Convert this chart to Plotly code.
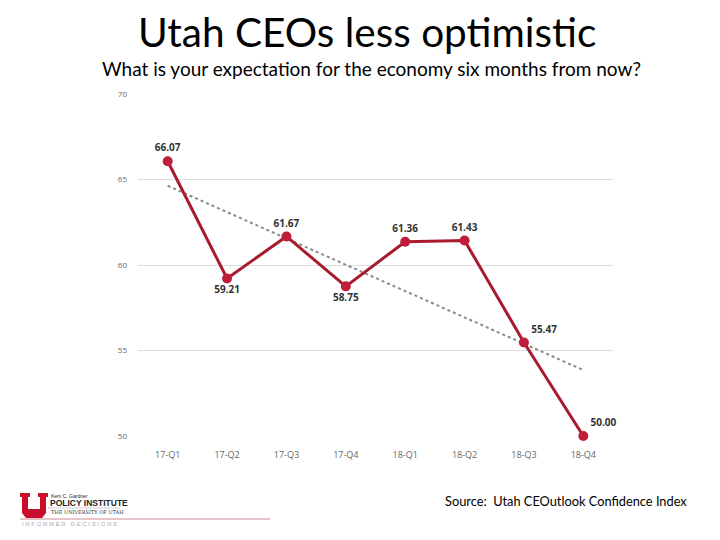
import numpy as np
import plotly.graph_objects as go

quarters = ["17-Q1", "17-Q2", "17-Q3", "17-Q4", "18-Q1", "18-Q2", "18-Q3", "18-Q4"]
values = [66.07, 59.21, 61.67, 58.75, 61.36, 61.43, 55.47, 50.00]
label_pos = ["top center", "bottom center", "top center", "bottom center",
             "top center", "top center", "top right", "top right"]
y_ticks = [50, 55, 60, 65, 70]

W, H = 720, 540
L, R, T, B = 138, 613, 94, 436


def px(x):
    return (x - L) / (R - L)


def py(y):
    return (B - y) / (B - T)


idx = np.arange(len(values))
slope, intercept = np.polyfit(idx, values, 1)
trend = slope * idx + intercept

fig = go.Figure()
fig.add_trace(go.Scatter(
    x=quarters, y=trend, mode="lines",
    line=dict(color="#8a8a8a", width=2, dash="dot"),
    hoverinfo="skip", showlegend=False))
fig.add_trace(go.Scatter(
    x=quarters, y=values, mode="lines+markers+text",
    line=dict(color="#A81B2E", width=3),
    marker=dict(color="#BE1E3A", size=10),
    text=[f"{v:.2f}" for v in values], textposition=label_pos,
    textfont=dict(family="Open Sans", size=10, color="#333333"),
    texttemplate="<b>%{text}</b>", cliponaxis=False,
    showlegend=False))

fig.update_xaxes(range=[-0.5, 7.5], showgrid=False, showline=False, zeroline=False,
                 tickfont=dict(family="Open Sans", size=9, color="#666666"), ticks="",
                 ticklabelstandoff=12)
fig.update_yaxes(range=[50, 70], tickvals=y_ticks, showgrid=True, gridcolor="#dddddd",
                 gridwidth=1, zeroline=False, showline=False,
                 tickfont=dict(family="Open Sans", size=8, color="#666666"), ticks="",
                 ticklabelstandoff=10)

annotations = [
    dict(text="Utah CEOs less optimistic", x=px(367), y=py(31), xanchor="center", yanchor="middle",
         font=dict(family="Lato", size=40.5, color="#000000")),
    dict(text="What is your expectation for the economy six months from now?", x=px(371), y=py(68),
         xanchor="center", yanchor="middle", font=dict(family="Lato", size=19, color="#000000")),
    dict(text="Source:  Utah CEOutlook Confidence Index", x=px(689), y=py(501), xanchor="right",
         yanchor="middle", font=dict(family="Lato", size=12.8, color="#000000")),
    dict(text="Kem C. Gardner", x=px(49), y=py(496), xanchor="left", yanchor="middle",
         font=dict(family="Liberation Sans", size=5, color="#222222")),
    dict(text="<b>POLICY INSTITUTE</b>", x=px(48), y=py(503), xanchor="left", yanchor="middle",
         font=dict(family="Liberation Sans", size=8.5, color="#222222")),
    dict(text="THE UNIVERSITY OF UTAH", x=px(49), y=py(512), xanchor="left", yanchor="middle",
         font=dict(family="DejaVu Serif", size=5, color="#333333")),
    dict(text="I N F O R M E D   D E C I S I O N S", x=px(20), y=py(524), xanchor="left", yanchor="middle",
         font=dict(family="Liberation Sans", size=6, color="#aaaaaa")),
]
for a in annotations:
    a.update(xref="paper", yref="paper", showarrow=False)

# University "U" logo block and divider line
u_path = (f"M {px(20)},{py(493)} L {px(30)},{py(493)} L {px(30)},{py(497)} L {px(28)},{py(497)} "
          f"L {px(28)},{py(509)} L {px(40)},{py(509)} L {px(40)},{py(497)} L {px(38)},{py(497)} "
          f"L {px(38)},{py(493)} L {px(48)},{py(493)} L {px(48)},{py(497)} L {px(46)},{py(497)} "
          f"L {px(46)},{py(513)} L {px(42)},{py(518)} L {px(26)},{py(518)} L {px(22)},{py(513)} "
          f"L {px(22)},{py(497)} L {px(20)},{py(497)} Z")
shapes = [
    dict(type="path", path=u_path, xref="paper", yref="paper",
         fillcolor="#C8102E", line=dict(width=0)),
    dict(type="line", x0=px(20), x1=px(270), y0=py(519), y1=py(519), xref="paper", yref="paper",
         line=dict(color="#e0b0b8", width=1.5)),
    dict(type="line", x0=px(48), x1=px(120), y0=py(508), y1=py(508), xref="paper", yref="paper",
         line=dict(color="#c0c0c0", width=0.8)),
]

fig.update_layout(
    width=W, height=H,
    margin=dict(l=L, r=W - R, t=T, b=H - B),
    plot_bgcolor="white", paper_bgcolor="white",
    annotations=annotations, shapes=shapes,
)

fig.write_html("out.html", config={"displayModeBar": False},
               post_script="document.body.style.margin='0';")
